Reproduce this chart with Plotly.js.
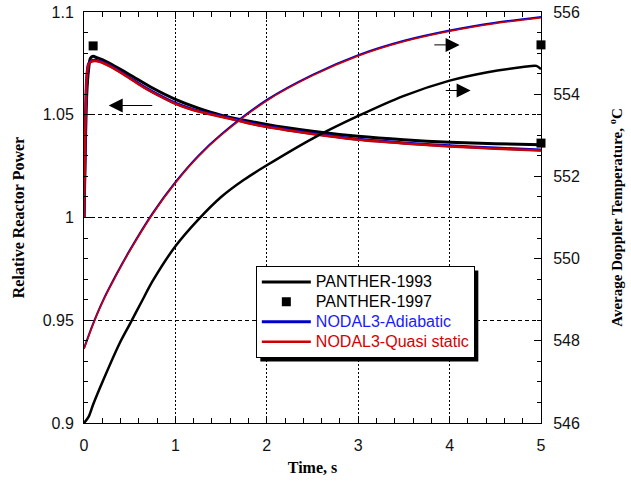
<!DOCTYPE html>
<html><head><meta charset="utf-8">
<script src="https://cdn.plot.ly/plotly-3.0.1.min.js"></script>
<style>html,body{margin:0;padding:0;background:#fff}#chart{width:631px;height:484px}</style>
</head><body><div id="chart"></div>
<script>
// Relative reactor power (left axis)
const tPowBlack = [0, 0.015, 0.03, 0.05, 0.07, 0.1, 0.14, 0.2, 0.3, 0.5, 0.75, 1, 1.25, 1.5, 2, 2.5, 3, 3.5, 4, 4.5, 5];
const powBlack  = [1.0, 1.035, 1.06, 1.072, 1.0775, 1.0785, 1.0778, 1.0768, 1.0745, 1.0695, 1.063, 1.0575, 1.0532, 1.0498, 1.0453, 1.042, 1.0395, 1.0378, 1.0366, 1.0359, 1.0354];
const tPowNodal = [0, 0.015, 0.03, 0.05, 0.08, 0.12, 0.17, 0.3, 0.47, 0.65, 0.83, 1.0, 1.19, 1.56, 1.93, 2.5, 3, 3.5, 4, 4.5, 5];
const powAdiab  = [1.0, 1.045, 1.068, 1.0748, 1.0762, 1.0765, 1.0761, 1.0735, 1.0689, 1.0637, 1.0593, 1.0556, 1.0526, 1.0487, 1.0449, 1.0409, 1.0381, 1.0363, 1.0349, 1.0338, 1.0329];
const powQuasi  = [1.0, 1.045, 1.068, 1.0745, 1.0759, 1.0762, 1.0758, 1.0732, 1.0686, 1.0634, 1.059, 1.0553, 1.0523, 1.0484, 1.0446, 1.0406, 1.0378, 1.036, 1.0346, 1.0335, 1.0326];
// Average Doppler temperature (right axis)
const tTempBlack = [0, 0.05, 0.1, 0.21, 0.39, 0.5, 0.63, 0.75, 1, 1.25, 1.5, 1.75, 2, 2.5, 3, 3.5, 4, 4.4, 4.8, 4.95, 5];
const tempBlack  = [546.0, 546.15, 546.45, 547.04, 547.94, 548.4, 548.95, 549.45, 550.3, 550.95, 551.5, 551.92, 552.27, 552.92, 553.47, 553.96, 554.33, 554.53, 554.66, 554.69, 554.61];
const tTempNodal = [0, 0.1, 0.21, 0.35, 0.5, 0.75, 1, 1.25, 1.5, 2, 2.5, 3, 3.5, 4, 4.5, 5];
const tempAdiab  = [547.82, 548.42, 548.99, 549.6, 550.2, 551.1, 551.86, 552.5, 553.02, 553.86, 554.47, 554.95, 555.3, 555.55, 555.74, 555.88];
const tempQuasi  = [547.8, 548.4, 548.97, 549.58, 550.18, 551.08, 551.84, 552.48, 553.0, 553.84, 554.45, 554.93, 555.28, 555.53, 555.72, 555.86];
// PANTHER-1997 points
const p97PowT = [0.1, 5];
const p97Pow  = [1.0835, 1.0362];
const p97TempT = [5];
const p97Temp  = [555.2];

const sp = {shape:'spline', smoothing:0.8};
const big = (t) => '<span style="font-size:16px">' + t + '</span>';
const traces = [
  {x: tPowBlack, y: powBlack, mode:'lines', line:Object.assign({color:'#000', width:3}, sp), name:big('PANTHER-1993'), yaxis:'y'},
  {x: p97PowT, y: p97Pow, mode:'markers', marker:{symbol:'square', color:'#000', size:9}, cliponaxis:false, name:big('PANTHER-1997'), yaxis:'y'},
  {x: tPowNodal, y: powAdiab, mode:'lines', line:Object.assign({color:'#0000cc', width:3}, sp), name:'<span style="font-size:16px;color:#1a1aff">NODAL3-Adiabatic</span>', yaxis:'y'},
  {x: tPowNodal, y: powQuasi, mode:'lines', line:Object.assign({color:'#cc0000', width:2.5}, sp), name:'<span style="font-size:16px;color:#d40000">NODAL3-Quasi static</span>', yaxis:'y'},
  {x: tTempBlack, y: tempBlack, mode:'lines', line:Object.assign({color:'#000', width:2.5}, sp), showlegend:false, yaxis:'y2'},
  {x: p97TempT, y: p97Temp, mode:'markers', marker:{symbol:'square', color:'#000', size:9}, cliponaxis:false, showlegend:false, yaxis:'y2'},
  {x: tTempNodal, y: tempAdiab, mode:'lines', line:Object.assign({color:'#0000cc', width:2}, sp), showlegend:false, yaxis:'y2'},
  {x: tTempNodal, y: tempQuasi, mode:'lines', line:Object.assign({color:'#cc0000', width:1.5}, sp), showlegend:false, yaxis:'y2'}
];

const tickFont = {family:'Liberation Sans, Arial, sans-serif', size:16, color:'#111'};
const titleFont = {family:'Liberation Serif, Times New Roman, serif', size:16, color:'#000', weight:'bold'};
const titleFontR = {family:'Liberation Serif, Times New Roman, serif', size:15, color:'#000', weight:'bold'};

const arrow = (x, y, ax, ay, yref) => ({x:x, y:y, ax:ax, ay:ay, xref:'x', yref:yref, axref:'x', ayref:yref,
  showarrow:true, arrowhead:2, arrowsize:2.8, arrowwidth:1, arrowcolor:'#000', text:' '});

const layout = {
  width:631, height:484,
  margin:{l:84, r:90, t:12, b:61},
  paper_bgcolor:'#fff', plot_bgcolor:'#fff',
  showlegend:true,
  legend:{x:0.376, y:0.382, xanchor:'left', yanchor:'top', bgcolor:'#fff', bordercolor:'#000', borderwidth:1,
    font:{family:'Liberation Sans, Arial, sans-serif', size:13, color:'#000'}, itemwidth:49, tracegroupgap:0},
  xaxis:{range:[0,5], dtick:1, tick0:0, showline:true, linecolor:'#000', linewidth:1, mirror:'ticks',
    ticks:'inside', ticklen:7, tickwidth:1, tickcolor:'#000', tickfont:tickFont, zeroline:false, ticklabelstandoff:8,
    showgrid:true, gridcolor:'#000', gridwidth:1, griddash:'2px,2px',
    minor:{ticks:'inside', dtick:0.2, tick0:0, ticklen:5, tickwidth:1, tickcolor:'#000', showgrid:false},
    title:{text:'\u00a0\u00a0\u00a0\u00a0\u00a0\u00a0Time, s', font:titleFont, standoff:8}},
  yaxis:{range:[0.9,1.1], dtick:0.05, tick0:0.9, showline:true, linecolor:'#000', linewidth:1, mirror:true,
    ticks:'inside', ticklen:7, tickwidth:1, tickcolor:'#000', tickfont:tickFont, zeroline:false, ticklabelstandoff:6,
    showgrid:true, gridcolor:'#000', gridwidth:1, griddash:'4px,3px',
    minor:{ticks:'inside', dtick:0.01, tick0:0.9, ticklen:4, tickwidth:1, tickcolor:'#000', showgrid:false},
    title:{text:'Relative Reactor Power', font:titleFont, standoff:14}},
  yaxis2:{range:[546,556], dtick:2, tick0:546, overlaying:'y', side:'right', showline:true, linecolor:'#000', linewidth:1,
    ticks:'inside', ticklen:7, tickwidth:1, tickcolor:'#000', tickfont:tickFont, zeroline:false, showgrid:false, ticklabelstandoff:8,
    minor:{ticks:'inside', dtick:0.5, tick0:546, ticklen:4, tickwidth:1, tickcolor:'#000', showgrid:false},
    title:{text:'Average Doppler Temperature, <sup>o</sup>C', font:titleFontR, standoff:32}},
  annotations:[
    arrow(0.27, 1.0545, 0.78, 1.0545, 'y'),
    arrow(4.11, 555.2, 3.80, 555.2, 'y2'),
    arrow(4.23, 554.09, 3.925, 554.09, 'y2')
  ],
  shapes:[]
};

const gd = document.getElementById('chart');
Plotly.newPlot(gd, traces, layout, {displayModeBar:false}).then(() => {
  const bg = gd.querySelector('.legend .bg');
  if (!bg) return;
  const r = bg.getBoundingClientRect();
  const c = gd.getBoundingClientRect();
  const s = gd._fullLayout._size;
  const px = (v) => (v - s.l) / s.w;
  const py = (v) => 1 - (v - s.t) / s.h;
  const x0 = r.left - c.left + 4, x1 = r.right - c.left + 4;
  const y0 = r.top - c.top + 4, y1 = r.bottom - c.top + 4;
  return Plotly.relayout(gd, {shapes:[{type:'rect', xref:'paper', yref:'paper', x0:px(x0), x1:px(x1), y0:py(y1), y1:py(y0),
    fillcolor:'#000', line:{width:0}, layer:'above'}]});
});
</script></body></html>
